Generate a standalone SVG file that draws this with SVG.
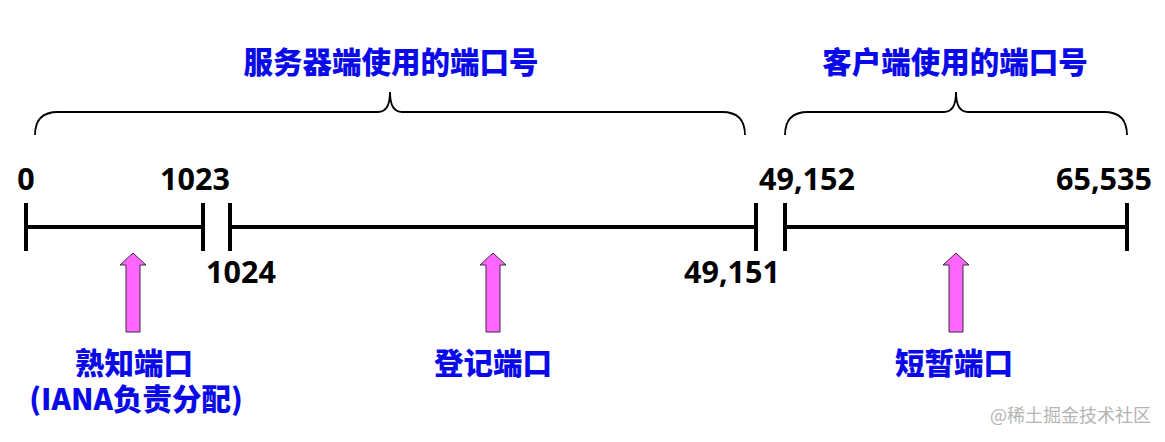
<svg xmlns="http://www.w3.org/2000/svg" width="1165" height="442" viewBox="0 0 1165 442">
<style>
.num{font-family:"Noto Sans","Open Sans","Noto Sans CJK SC",sans-serif;font-weight:700;font-size:30.5px;fill:#000;text-anchor:middle}
.cn{font-family:"Noto Sans CJK SC","Noto Sans",sans-serif;font-weight:900;font-size:29.5px;fill:#0a0ae8;text-anchor:middle}
.axis{stroke:#000;stroke-width:4;fill:none}
.brace{stroke:#000;stroke-width:1.8;fill:none}
.arrow{fill:#ff66ff;stroke:#3a2a3a;stroke-width:1}
.wm{font-family:"Noto Sans CJK SC",sans-serif;font-size:18px;fill:#b4b4b4}
</style>
<defs>
<polygon id="up" class="arrow" points="0,0 13,12 7,12 7,79 -7,79 -7,12 -13,12"/>
</defs>
<rect width="1165" height="442" fill="#fff"/>
<g id="connectors">
<path class="axis" d="M26,227 H203 M26,203 V251 M203,203 V251 M230,203 V251 M230,227 H756 M756,203 V251 M785,203 V251 M785,227 H1127 M1127,203 V251"/>
<path class="brace" d="M35,135 Q35,112 58,112 L378,112 Q390,112 390,92 Q390,112 402,112 L722,112 Q745,112 745,135"/>
<path class="brace" d="M785,135 Q785,112 808,112 L944,112 Q956,112 956,92 Q956,112 968,112 L1104,112 Q1127,112 1127,135"/>
</g>
<g id="title-server"><text class="cn" x="391" y="73">服务器端使用的端口号</text></g>
<g id="title-client"><text class="cn" x="955" y="73">客户端使用的端口号</text></g>
<g id="n0"><text class="num" x="26" y="190">0</text></g>
<g id="n1023"><text class="num" x="195" y="190">1023</text></g>
<g id="n1024"><text class="num" x="241" y="283">1024</text></g>
<g id="n49151"><text class="num" x="732" y="283">49,151</text></g>
<g id="n49152"><text class="num" x="807" y="190">49,152</text></g>
<g id="n65535"><text class="num" x="1104" y="190">65,535</text></g>
<g id="well-known">
<use href="#up" x="133" y="253"/>
<text class="cn" x="134" y="374">熟知端口</text>
<text class="cn" x="136" y="410">(IANA负责分配)</text>
</g>
<g id="registered">
<use href="#up" x="493" y="253"/>
<text class="cn" x="493" y="374">登记端口</text>
</g>
<g id="ephemeral">
<use href="#up" x="956" y="253"/>
<text class="cn" x="954" y="374">短暂端口</text>
</g>
<text class="wm" x="990" y="422">@稀土掘金技术社区</text>
</svg>
